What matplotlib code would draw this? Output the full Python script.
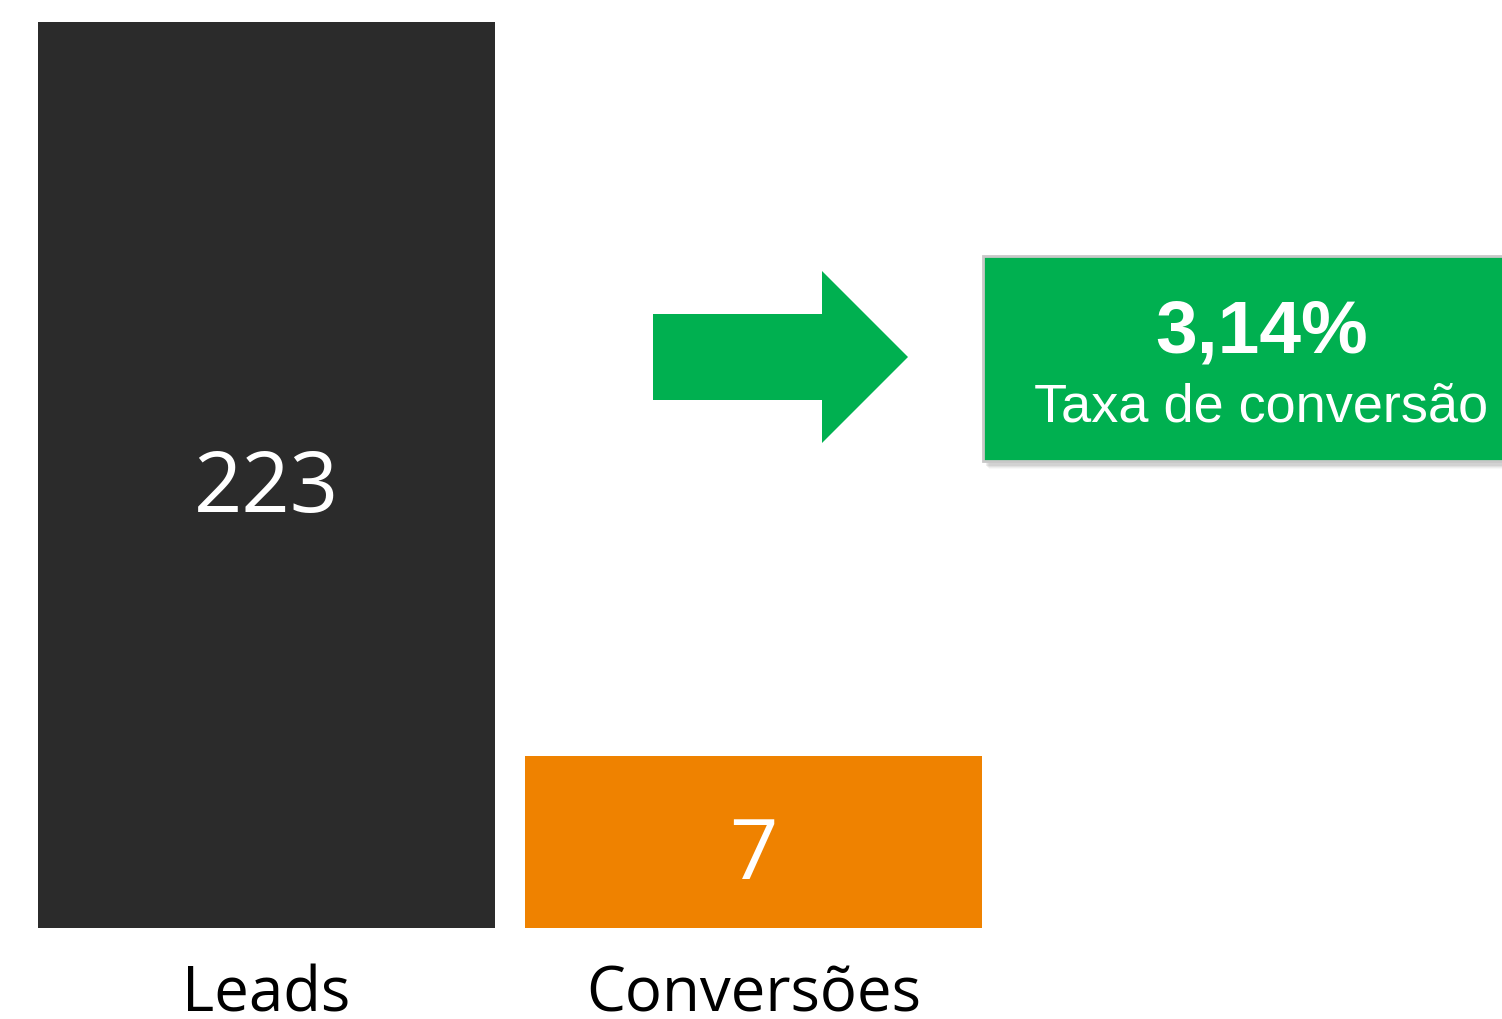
import matplotlib.pyplot as plt
from matplotlib.patches import Rectangle, Polygon

# dados
categorias = ['Leads', 'Conversões']
valores = [223, 7]
# altura desenhada das barras (o gráfico original não está em escala)
alturas = [223, 42.3]
cores = ['#2b2b2b', '#ef8200']
taxa = '3,14%'
taxa_label = 'Taxa de conversão'

W, H = 1502, 1019
fig = plt.figure(figsize=(W / 100, H / 100), dpi=100)

# barras
ax = fig.add_axes([38 / W, 91 / H, 944 / W, 906 / H])
ax.bar(range(len(categorias)), alturas, width=0.938, color=cores)
ax.set_xlim(-0.469, 1.469)
ax.set_ylim(0, 223)
ax.axis('off')
for i, (v, h) in enumerate(zip(valores, alturas)):
    ax.text(i, h / 2 - 3.6, str(v), ha='center', va='center', color='white',
            fontsize=61, family='Open Sans')
    ax.text(i, -8.8, categorias[i], ha='center', va='top', color='black',
            fontsize=44.5, family='Open Sans', clip_on=False)

# seta e caixa em coordenadas de pixel
ov = fig.add_axes([0, 0, 1, 1])
ov.set_xlim(0, W)
ov.set_ylim(H, 0)
ov.axis('off')

verde = '#00b050'
seta = [(653, 314), (822, 314), (822, 271), (908, 357), (822, 443),
        (822, 400), (653, 400)]
ov.add_patch(Polygon(seta, closed=True, facecolor=verde, edgecolor='none'))

# sombra da caixa
for k, a in enumerate([0.10, 0.08, 0.06, 0.04]):
    ov.add_patch(Rectangle((986 + k, 262 + k), 540, 204, facecolor='#555555',
                           edgecolor='none', alpha=a))
ov.add_patch(Rectangle((983, 256), 540, 205, facecolor=verde,
                       edgecolor='#c8c8c8', linewidth=2))
ov.text(1262, 333, taxa, ha='center', va='center', color='white',
        fontsize=54, fontweight='bold', family='Liberation Sans')
ov.text(1261, 407, taxa_label, ha='center', va='center', color='white',
        fontsize=39, family='Liberation Sans')

fig.savefig('out.png', dpi=100, facecolor='white')
